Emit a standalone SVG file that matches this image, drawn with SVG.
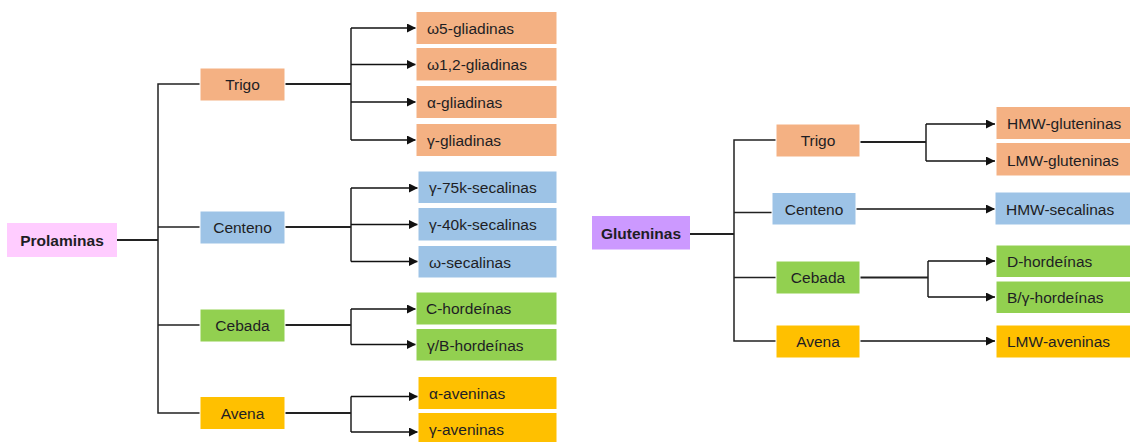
<svg xmlns="http://www.w3.org/2000/svg" width="1130" height="442" viewBox="0 0 1130 442">
<defs>
<marker id="ah" viewBox="0 0 10 10" refX="10" refY="5" markerWidth="9" markerHeight="9" markerUnits="userSpaceOnUse" orient="auto"><path d="M0,0 L10,5 L0,10 z" fill="#111"/></marker>
<style>
.b{stroke:#fff;stroke-width:1}
.or{fill:#F4B183}.bl{fill:#9DC3E6}.gr{fill:#92D050}.ye{fill:#FFC000}.pk{fill:#FFCCFF}.pu{fill:#CC99FF}
text{font-family:"Liberation Sans",Arial,sans-serif;font-size:15.5px;fill:#1e1e24;dominant-baseline:central}
.c{text-anchor:middle}
.bd{font-weight:bold}
.ln{fill:none;stroke:#222;stroke-width:1.5}
.tk{fill:none;stroke:#222;stroke-width:2}
.ar{fill:none;stroke:#111;stroke-width:1.5;marker-end:url(#ah)}
</style>
</defs>
<rect width="1130" height="442" fill="#fff"/>
<g id="connectors">
<path class="tk" d="M117,240 H158"/>
<path class="ln" d="M200,84 H158 V413 H200 M158,227 H200 M158,325 H200"/>
<path class="tk" d="M285,84 H351 M285,227 H351 M285,325 H351 M285,413 H351"/>
<path class="ln" d="M351,28 V140 M351,188 V261.5 M351,309 V344.5 M351,396.5 V432"/>
<path class="ar" d="M351,28 H416"/>
<path class="ar" d="M351,64.5 H416"/>
<path class="ar" d="M351,102 H416"/>
<path class="ar" d="M351,140 H416"/>
<path class="ar" d="M351,188 H418"/>
<path class="ar" d="M351,224.5 H418"/>
<path class="ar" d="M351,261.5 H418"/>
<path class="ar" d="M351,309 H416"/>
<path class="ar" d="M351,344.5 H416"/>
<path class="ar" d="M351,396.5 H418"/>
<path class="ar" d="M351,432 H418"/>
<path class="tk" d="M690,234 H734"/>
<path class="ln" d="M776,140 H734 V341 H776 M734,212.5 H772 M734,277.5 H776"/>
<path class="tk" d="M860,142 H926 M860,277.5 H928"/>
<path class="ln" d="M926,124 V161 M928,261 V297"/>
<path class="ar" d="M926,124 H995"/>
<path class="ar" d="M926,161 H995"/>
<path class="ar" d="M856,209 H995"/>
<path class="ar" d="M928,261 H995"/>
<path class="ar" d="M928,297 H995"/>
<path class="ar" d="M860,341 H995"/>
</g>
<g id="prolaminas"><rect class="pk" x="7" y="223" width="110" height="34"/><text class="c bd" x="62" y="240">Prolaminas</text></g>
<g id="p-trigo"><rect class="or b" x="200" y="68" width="85" height="33"/><text class="c" x="242.5" y="84.5">Trigo</text></g>
<g id="p-centeno"><rect class="bl b" x="200" y="211" width="85" height="33"/><text class="c" x="242.5" y="227.5">Centeno</text></g>
<g id="p-cebada"><rect class="gr b" x="200" y="309" width="85" height="33"/><text class="c" x="242.5" y="325.5">Cebada</text></g>
<g id="p-avena"><rect class="ye b" x="200" y="396.5" width="85" height="33"/><text class="c" x="242.5" y="413">Avena</text></g>
<g id="w5"><rect class="or b" x="416" y="11.5" width="141" height="33"/><text x="427" y="28">ω5-gliadinas</text></g>
<g id="w12"><rect class="or b" x="416" y="47.5" width="141" height="33.5"/><text x="427" y="64.5">ω1,2-gliadinas</text></g>
<g id="ag"><rect class="or b" x="416" y="85.5" width="141" height="33"/><text x="427" y="102">α-gliadinas</text></g>
<g id="gg"><rect class="or b" x="416" y="123.5" width="141" height="33"/><text x="427" y="140">γ-gliadinas</text></g>
<g id="g75"><rect class="bl b" x="418" y="171" width="139" height="32.5"/><text x="429" y="187.5">γ-75k-secalinas</text></g>
<g id="g40"><rect class="bl b" x="418" y="207.5" width="139" height="33.5"/><text x="429" y="224.5">γ-40k-secalinas</text></g>
<g id="ws"><rect class="bl b" x="418" y="245.5" width="139" height="32.5"/><text x="429" y="262">ω-secalinas</text></g>
<g id="ch"><rect class="gr b" x="416" y="292" width="141" height="33"/><text x="426" y="308.5">C-hordeínas</text></g>
<g id="gbh"><rect class="gr b" x="416" y="328.5" width="141" height="32.5"/><text x="427" y="345">γ/B-hordeínas</text></g>
<g id="aa"><rect class="ye b" x="418" y="376.5" width="139" height="33"/><text x="429" y="393">α-aveninas</text></g>
<g id="ga"><rect class="ye b" x="418" y="412.5" width="139" height="33"/><text x="429" y="429">γ-aveninas</text></g>
<g id="gluteninas"><rect class="pu" x="592" y="216" width="98" height="33.5"/><text class="c bd" x="641" y="233">Gluteninas</text></g>
<g id="g-trigo"><rect class="or b" x="776" y="124" width="84" height="33"/><text class="c" x="818" y="140.5">Trigo</text></g>
<g id="g-centeno"><rect class="bl b" x="772" y="192.5" width="84" height="32.5"/><text class="c" x="814" y="209">Centeno</text></g>
<g id="g-cebada"><rect class="gr b" x="776" y="261" width="84" height="33"/><text class="c" x="818" y="277.5">Cebada</text></g>
<g id="g-avena"><rect class="ye b" x="776" y="325" width="84" height="33"/><text class="c" x="818" y="341.5">Avena</text></g>
<g id="hmwg"><rect class="or b" x="996" y="106.5" width="136" height="33"/><text x="1007" y="123.5">HMW-gluteninas</text></g>
<g id="lmwg"><rect class="or b" x="996" y="142.5" width="136" height="33.5"/><text x="1007" y="160">LMW-gluteninas</text></g>
<g id="hmws"><rect class="bl b" x="995" y="192" width="137" height="33"/><text x="1006" y="209">HMW-secalinas</text></g>
<g id="dh"><rect class="gr b" x="996" y="245" width="136" height="32.5"/><text x="1007" y="261.5">D-hordeínas</text></g>
<g id="bgh"><rect class="gr b" x="996" y="281" width="136" height="32.5"/><text x="1007" y="297.5">B/γ-hordeínas</text></g>
<g id="lmwa"><rect class="ye b" x="996" y="325" width="136" height="33"/><text x="1007" y="341.5">LMW-aveninas</text></g>
</svg>
